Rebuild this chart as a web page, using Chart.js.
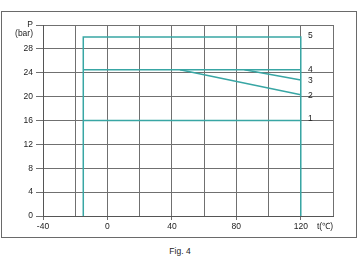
<!DOCTYPE html>
<html>
<head>
<meta charset="utf-8">
<script src="https://cdn.jsdelivr.net/npm/chart.js@4/dist/chart.umd.min.js"></script>
<style>
  body { margin: 0; background: #fff; width: 360px; height: 270px; position: relative; overflow: hidden; }
  #frame { position: absolute; left: 1px; top: 11px; width: 354px; height: 225px; border: 1px solid #6a6a6a; }
  #caption { position: absolute; left: 0; top: 246px; width: 360px; text-align: center;
             font: 8.5px "Liberation Sans", Arial, sans-serif; color: #222; }
</style>
</head>
<body>
<div id="frame"><canvas id="myChart" width="354" height="225"></canvas></div>
<div id="caption">Fig. 4</div>
<script>
const ctx = document.getElementById('myChart');

// tick values and labels
const xTickValues = [-40, -20, 0, 20, 40, 60, 80, 100, 120, 135, 140];
const xTickLabels = ['-40', '', '0', '', '40', '', '80', '', '120', 't(\u2103)', ''];
const yTickValues = [0, 4, 8, 12, 16, 20, 24, 28, 30.6, 32];
const yTickLabels = ['0', '4', '8', '12', '16', '20', '24', '28', '(bar)', 'P'];

// curves (t in °C, P in bar)
const curve1 = [{x: -15, y: 16}, {x: 120, y: 16}];
const curve5 = [{x: -15, y: 0}, {x: -15, y: 30}, {x: 120, y: 30}, {x: 120, y: 0}];
const curve4 = [{x: -15, y: 24.5}, {x: 120, y: 24.5}];
const curve2 = [{x: 45, y: 24.5}, {x: 120, y: 20.3}];
const curve3 = [{x: 85, y: 24.5}, {x: 120, y: 22.8}];

// curve numbers at the right end
const curveNames = ['1', '2', '3', '4', '5'];
const curveNameY = [16.3, 20.1, 22.6, 24.6, 30.2];
const curveNameX = 124.5;

const teal = '#38a6a4';
const gridColor = '#707070';
const font = { family: '"Liberation Sans", Arial, sans-serif', size: 8.5 };

const curveNumbers = {
    id: 'curveNumbers',
    afterDatasetsDraw(chart) {
        const c = chart.ctx;
        const xs = chart.scales.x, ys = chart.scales.y;
        c.save();
        c.font = '8.5px "Liberation Sans", Arial, sans-serif';
        c.fillStyle = '#222';
        c.textAlign = 'left';
        c.textBaseline = 'middle';
        curveNames.forEach((n, i) => {
            c.fillText(n, xs.getPixelForValue(curveNameX), ys.getPixelForValue(curveNameY[i]));
        });
        c.restore();
    }
};

function line(data) {
    return {
        data: data,
        borderColor: teal,
        borderWidth: 1.5,
        pointRadius: 0,
        fill: false,
        tension: 0
    };
}

var options = {
    responsive: false,
    animation: false,
    layout: { padding: { top: 13, right: 23, left: 0, bottom: 0 } },
    plugins: {
        legend: { display: false },
        tooltip: { enabled: false }
    },
    scales: {
        x: {
            type: 'linear',
            min: -40,
            max: 140,
            afterBuildTicks: (scale) => { scale.ticks = xTickValues.map(v => ({ value: v })); },
            afterFit: (scale) => { scale.height = 21; },
            ticks: {
                autoSkip: false,
                maxRotation: 0,
                padding: 2,
                color: '#222',
                font: font,
                callback: (value) => xTickLabels[xTickValues.indexOf(value)]
            },
            grid: {
                color: (c) => c.tick && c.tick.value === 135 ? 'rgba(0,0,0,0)' : gridColor,
                tickColor: (c) => {
                    const l = c.tick ? xTickLabels[xTickValues.indexOf(c.tick.value)] : '';
                    return l && c.tick.value !== 135 ? gridColor : 'rgba(0,0,0,0)';
                },
                tickLength: 4
            },
            border: { color: '#555' }
        },
        y: {
            type: 'linear',
            min: 0,
            max: 32,
            afterBuildTicks: (scale) => { scale.ticks = yTickValues.map(v => ({ value: v })); },
            afterFit: (scale) => { scale.width = 41; },
            ticks: {
                autoSkip: false,
                padding: 3,
                color: '#222',
                font: font,
                callback: (value) => yTickLabels[yTickValues.indexOf(value)]
            },
            grid: {
                color: (c) => c.tick && c.tick.value === 30.6 ? 'rgba(0,0,0,0)' : gridColor,
                tickColor: (c) => c.tick && c.tick.value === 30.6 ? 'rgba(0,0,0,0)' : gridColor,
                tickLength: 7
            },
            border: { color: '#555' }
        }
    }
};

var myChart = new Chart(ctx, {
    type: 'line',
    data: {
        datasets: [line(curve1), line(curve5), line(curve4), line(curve2), line(curve3)]
    },
    options: options,
    plugins: [curveNumbers]
});
</script>
</body>
</html>
